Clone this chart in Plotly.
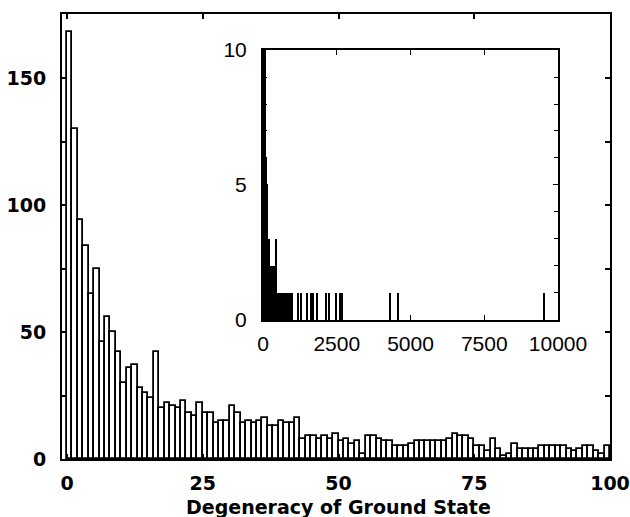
import plotly.graph_objects as go

# Main histogram: counts for degeneracy 1..100
degeneracy = list(range(1, 101))
counts = [168, 130, 94, 84, 65, 75, 46, 56, 50, 42,
          30, 36, 37, 28, 26, 24, 42, 20, 22, 21,
          20, 23, 18, 17, 22, 18, 18, 14, 15, 15,
          21, 18, 14, 15, 14, 15, 16, 13, 13, 15,
          14, 14, 16, 8, 9, 9, 8, 9, 8, 10,
          7, 8, 6, 7, 2, 9, 9, 8, 7, 7,
          5, 5, 5, 6, 7, 7, 7, 7, 7, 7,
          8, 10, 9, 9, 8, 5, 5, 3, 8, 4,
          1, 2, 6, 4, 4, 4, 4, 5, 5, 5,
          5, 5, 4, 3, 4, 5, 5, 3, 2, 5]

# Inset: tail of the distribution beyond 100
tail_deg = [104, 108, 112, 116, 120, 128, 132, 136, 144, 148, 152, 160, 168, 176, 180,
            192, 200, 208, 216, 224, 240, 248, 256, 264, 272, 288, 296, 304, 320, 336,
            352, 360, 384, 400, 416, 432, 448, 480, 496, 512, 528, 544, 576, 600, 640,
            672, 704, 736, 768, 800, 832, 864, 896, 960, 1000, 1176, 1278, 1481, 1627,
            1706, 1820, 2135, 2247, 2497, 2610, 2688, 4305, 4576, 9525]
tail_cnt = [5, 4, 6, 3, 4, 5, 3, 4, 3, 2, 3, 3, 2, 3, 2,
            3, 2, 3, 2, 3, 2, 2, 1, 2, 2, 1, 2, 2, 2, 1,
            2, 2, 2, 1, 2, 3, 1, 1, 1, 1, 1, 1, 1, 1, 1,
            1, 1, 1, 1, 1, 1, 1, 1, 1, 1, 1, 1, 1, 1,
            1, 1, 1, 1, 1, 1, 1, 1, 1, 1]

main_xticks = [0, 25, 50, 75, 100]
main_yticks = [0, 50, 100, 150]
inset_xticks = [0, 2500, 5000, 7500, 10000]
inset_yticks = [0, 5, 10]

fig = go.Figure()
fig.add_trace(go.Bar(
    x=[d - 0.5 for d in degeneracy], y=counts, width=1,
    marker=dict(color="white", line=dict(color="black", width=1.8)),
    xaxis="x", yaxis="y", showlegend=False))
fig.add_trace(go.Bar(
    x=degeneracy + tail_deg, y=counts + tail_cnt, width=45,
    marker=dict(color="black", line=dict(width=0)),
    xaxis="x2", yaxis="y2", showlegend=False))

bold = dict(family="DejaVu Sans", size=19, color="black", weight="bold")
reg = dict(family="Liberation Sans", size=21, color="black")

fig.update_layout(
    width=630, height=517,
    margin=dict(l=62, r=20, t=14, b=58, autoexpand=False),
    paper_bgcolor="white", plot_bgcolor="white",
    barmode="overlay", bargap=0,
    xaxis=dict(domain=[0, 1], range=[-0.92, 100], showgrid=False, zeroline=False,
               automargin=False,
               showline=True, mirror="ticks", linecolor="black", linewidth=2,
               ticks="inside", ticklen=5, tickcolor="black", tickwidth=1.5,
               tickvals=main_xticks, ticktext=[str(v) for v in main_xticks],
               tickfont=bold, ticklabelstandoff=6),
    yaxis=dict(domain=[0, 1], range=[0, 175.2], showgrid=False, zeroline=False,
               automargin=False,
               showline=True, mirror="ticks", linecolor="black", linewidth=2,
               ticks="inside", ticklen=5, tickcolor="black", tickwidth=1.5,
               tickvals=main_yticks, ticktext=[str(v) for v in main_yticks],
               minor=dict(dtick=25, ticks="inside", ticklen=5, tickcolor="black"),
               tickfont=bold, ticklabelstandoff=10),
    xaxis2=dict(domain=[0.3668, 0.9051], anchor="y2", range=[0, 10000],
                automargin=False,
                showgrid=False, zeroline=False, showline=True, mirror="ticks",
                linecolor="black", linewidth=2, ticks="inside", ticklen=5,
                tickcolor="black", tickvals=inset_xticks,
                ticktext=[str(v) for v in inset_xticks], tickfont=reg,
                ticklabelstandoff=4),
    yaxis2=dict(domain=[0.3124, 0.9191], anchor="x2", range=[0, 10],
                automargin=False,
                showgrid=False, zeroline=False, showline=True, mirror="ticks",
                linecolor="black", linewidth=2, ticks="inside", ticklen=5,
                tickcolor="black", tickvals=inset_yticks,
                ticktext=[str(v) for v in inset_yticks], tickfont=reg,
                minor=dict(dtick=1, ticks="inside", ticklen=4, tickcolor="black"),
                ticklabelstandoff=10),
    annotations=[dict(text="<b>Degeneracy of Ground State</b>", xref="paper", yref="paper",
                      x=0.505, y=-0.108, xanchor="center", yanchor="middle", showarrow=False,
                      font=dict(family="DejaVu Sans", size=19, color="black"))],
)

fig.write_html("out.html")
